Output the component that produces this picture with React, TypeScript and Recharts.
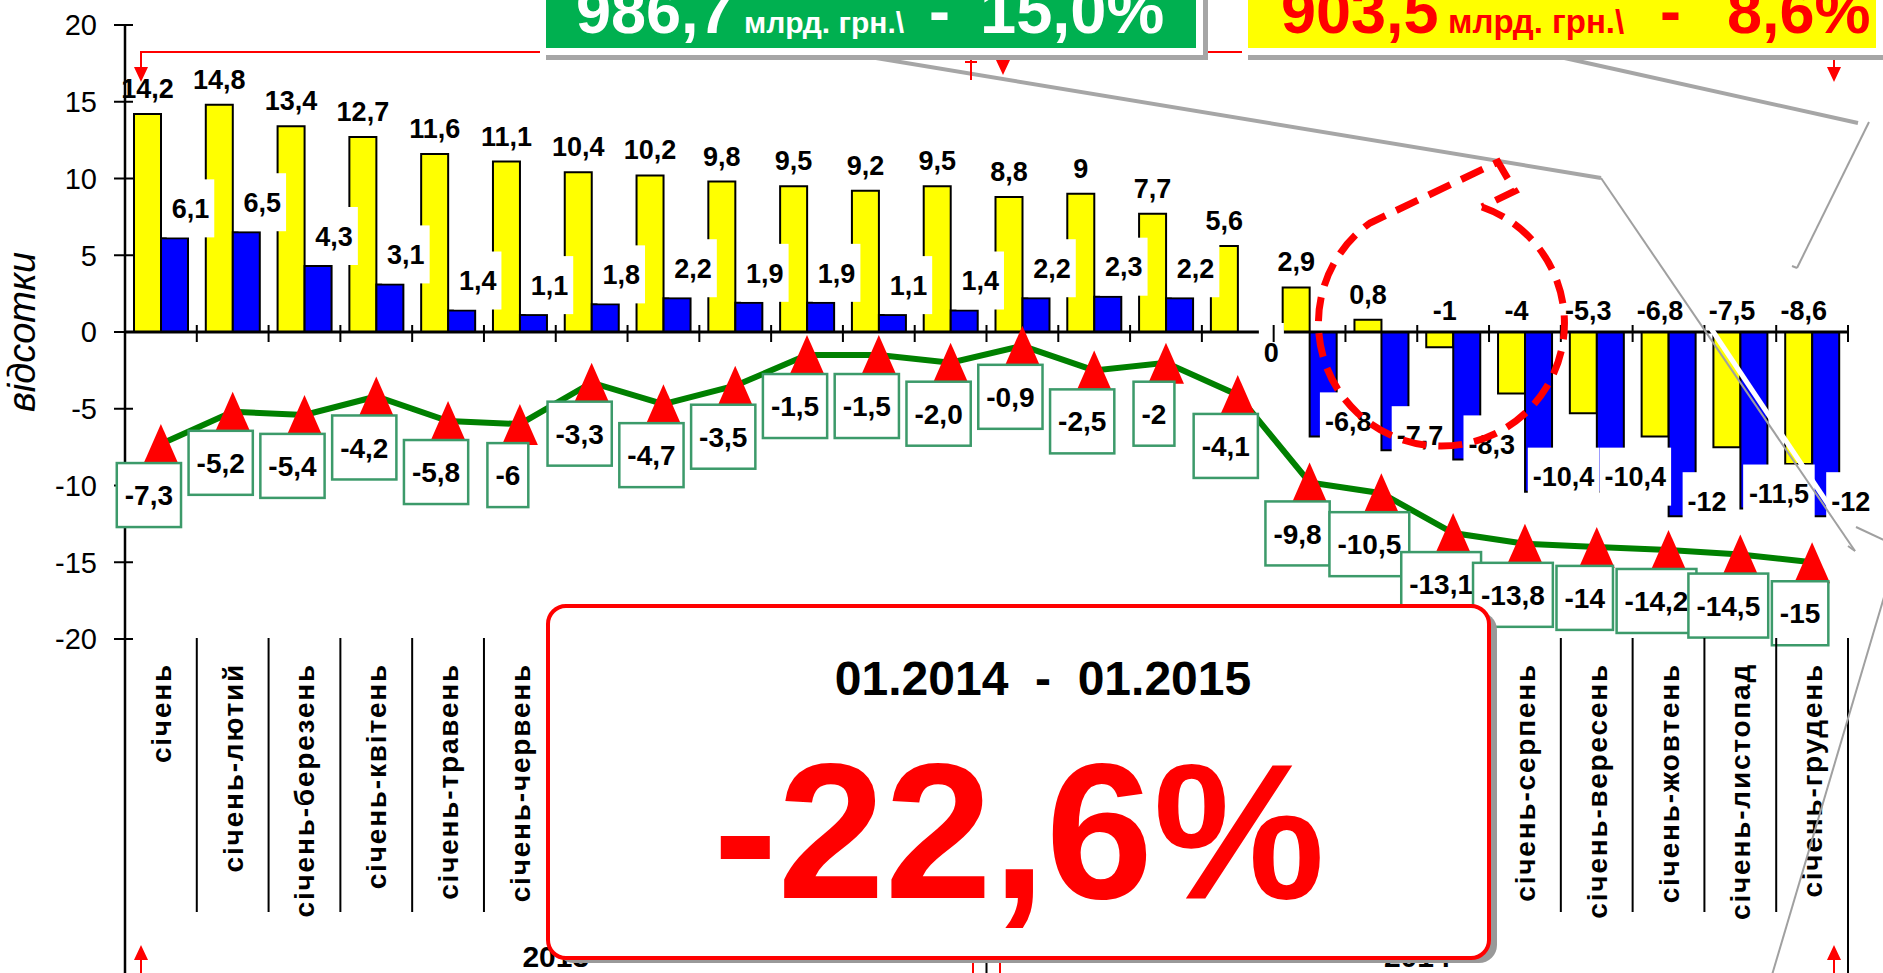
import React from 'react';
import { ComposedChart, Bar, Line, XAxis, YAxis, ReferenceLine, LabelList } from 'recharts';

// ---------- data ----------
const years = ['2013', '2014'];
const months = [
  'січень', 'січень-лютий', 'січень-березень', 'січень-квітень', 'січень-травень', 'січень-червень',
  'січень-липень', 'січень-серпень', 'січень-вересень', 'січень-жовтень', 'січень-листопад', 'січень-грудень',
];
const yellowValues = [14.2, 14.8, 13.4, 12.7, 11.6, 11.1, 10.4, 10.2, 9.8, 9.5, 9.2, 9.5, 8.8, 9, 7.7, 5.6, 2.9, 0.8, -1, -4, -5.3, -6.8, -7.5, -8.6];
const blueValues = [6.1, 6.5, 4.3, 3.1, 1.4, 1.1, 1.8, 2.2, 1.9, 1.9, 1.1, 1.4, 2.2, 2.3, 2.2, 0, -6.8, -7.7, -8.3, -10.4, -10.4, -12, -11.5, -12];
const growthValues = [-7.3, -5.2, -5.4, -4.2, -5.8, -6, -3.3, -4.7, -3.5, -1.5, -1.5, -2.0, -0.9, -2.5, -2, -4.1, -9.8, -10.5, -13.1, -13.8, -14, -14.2, -14.5, -15];
const growthLabels = ['-7,3', '-5,2', '-5,4', '-4,2', '-5,8', '-6', '-3,3', '-4,7', '-3,5', '-1,5', '-1,5', '-2,0', '-0,9', '-2,5', '-2', '-4,1', '-9,8', '-10,5', '-13,1', '-13,8', '-14', '-14,2', '-14,5', '-15'];
const yTicks = [-20, -15, -10, -5, 0, 5, 10, 15, 20];

const data = years.flatMap((yr, yi) =>
  months.map((m, mi) => {
    const i = yi * months.length + mi;
    return { id: `${yr}|${m}`, yellow: yellowValues[i], blue: blueValues[i], growth: growthValues[i] };
  })
);

// ---------- layout ----------
const W = 1883;
const H = 973;
const PL = 125;
const PR = 1848;
const PT = 25;
const PB = 639;
const N = data.length;
const BAND = (PR - PL) / N;
const ZERO_Y = PT + (PB - PT) / 2;
const FONT = "'Liberation Sans', Arial, Helvetica, sans-serif";
const LABEL_FS = 27;

const fmt = (v: number) => String(v).replace('.', ',');
const charW: Record<string, number> = { ',': 0.278, '.': 0.278, '-': 0.333 };
const textWidth = (s: string, fs: number) =>
  s.split('').reduce((a, c) => a + (charW[c] ?? 0.556), 0) * fs;

const rectOf = (p: any) => {
  const vb = p.viewBox && typeof p.viewBox.x === 'number' ? p.viewBox : p;
  return { x: Number(vb.x), y: Number(vb.y), w: Number(vb.width ?? 0), h: Number(vb.height ?? 0) };
};

const YellowLabel = (p: any) => {
  const { x, y, w, h } = rectOf(p);
  const v = typeof p.index === 'number' ? yellowValues[p.index] : Number(p.value);
  const top = Math.min(y, y + h);
  const cx = x + w / 2;
  const t = fmt(v);
  return (
    <text
      x={v >= 0 ? cx : cx + 5}
      y={v >= 0 ? top - 16 : top - 12}
      textAnchor="middle"
      fontSize={LABEL_FS}
      fontWeight="bold"
      fontFamily={FONT}
      fill="#000"
    >
      {t}
    </text>
  );
};

const BlueLabel = (p: any) => {
  const { x, y, w, h } = rectOf(p);
  const v = typeof p.index === 'number' ? blueValues[p.index] : Number(p.value);
  if (!isFinite(x) || !isFinite(y)) return <g />;
  const cx = x + w / 2;
  const end = v >= 0 ? Math.min(y, y + h) : Math.max(y, y + h);
  let tx = cx + 16;
  let ty = end - 30;
  if (v < 0) {
    tx = cx + 25;
    ty = end - 15;
  } else if (v === 0) {
    tx = cx + 20;
    ty = end + 20;
  }
  const t = fmt(v);
  const bw = textWidth(t, LABEL_FS) + 10;
  return (
    <g>
      <rect x={tx - bw / 2} y={ty - 29} width={bw} height={58} fill="#fff" />
      <text x={tx} y={ty} dy="0.36em" textAnchor="middle" fontSize={LABEL_FS} fontWeight="bold" fontFamily={FONT} fill="#000">{t}</text>
    </g>
  );
};

const GrowthLabel = (p: any) => {
  const x = typeof p.x === 'number' ? p.x : rectOf(p).x;
  const y = typeof p.y === 'number' ? p.y : rectOf(p).y;
  const t = growthLabels[p.index] ?? fmt(Number(p.value));
  const bw = textWidth(t, 28) + 16;
  const bx = x - 12;
  const by = y + 51;
  return (
    <g>
      <rect x={bx - bw / 2} y={by - 32} width={bw} height={64} fill="#fff" stroke="#3C9A6A" strokeWidth={2.5} />
      <text x={bx} y={by} dy="0.36em" textAnchor="middle" fontSize={28} fontWeight="bold" fontFamily={FONT} fill="#000">{t}</text>
    </g>
  );
};

const TriDot = (p: any) => {
  const { cx, cy } = p;
  if (cx == null || cy == null) return <g />;
  return <polygon points={`${cx},${cy - 20} ${cx - 18},${cy + 21} ${cx + 18},${cy + 21}`} fill="#FF0000" />;
};

const XTick = (p: any) => {
  const { x, payload } = p;
  const label = String(payload.value).split('|')[1];
  return (
    <text
      transform={`translate(${x + 10},663) rotate(-90)`}
      textAnchor="end"
      fontSize={28}
      fontWeight="bold"
      letterSpacing={1.8}
      fontFamily={FONT}
      fill="#000"
    >
      {label}
    </text>
  );
};

const YTick = (p: any) => {
  const { y, payload } = p;
  return (
    <g>
      <line x1={PL - 11} x2={PL + 8} y1={y} y2={y} stroke="#000" strokeWidth={2} />
      <text x={PL - 28} y={y} dy="0.36em" textAnchor="end" fontSize={29} fontFamily={FONT} fill="#000">{payload.value}</text>
    </g>
  );
};

const RedArrow = ({ x, y1, y2 }: { x: number; y1: number; y2: number }) => {
  const d = Math.sign(y2 - y1);
  return (
    <g>
      <line x1={x} x2={x} y1={y1} y2={y2 - d * 12} stroke="#FF0000" strokeWidth={2} />
      <polygon points={`${x},${y2} ${x - 7},${y2 - d * 15} ${x + 7},${y2 - d * 15}`} fill="#FF0000" />
    </g>
  );
};

const Overlay = () => {
  const bounds = Array.from({ length: N + 1 }, (_, i) => PL + i * BAND);
  return (
    <svg width={W} height={H} style={{ position: 'absolute', left: 0, top: 0 }} fontFamily={FONT}>
      {/* axis extension & separators */}
      <line x1={PL} x2={PL} y1={PB} y2={H} stroke="#000" strokeWidth={2.5} />
      {bounds.slice(1).map((bx, k) => {
        const i = k + 1;
        const full = i % 12 === 0;
        return (
          <g key={`b${i}`}>
            <line x1={bx} x2={bx} y1={ZERO_Y - 7} y2={ZERO_Y + 10} stroke="#000" strokeWidth={2} />
            <line x1={bx} x2={bx} y1={PB - 1} y2={full ? H : 912} stroke="#000" strokeWidth={2} />
          </g>
        );
      })}
      {years.map((yr, yi) => (
        <text key={yr} x={PL + (yi * 12 + 6) * BAND} y={967} textAnchor="middle" fontSize={30} fontWeight="bold" fill="#000">{yr}</text>
      ))}
      <text transform={`translate(35,${ZERO_Y}) rotate(-90)`} textAnchor="middle" fontSize={38} fontStyle="italic" fill="#000">відсотки</text>

      {/* bottom red arrows */}
      <RedArrow x={141} y1={973} y2={945} />
      <RedArrow x={1834} y1={973} y2={945} />
      <line x1={973} x2={973} y1={958} y2={973} stroke="#FF0000" strokeWidth={2} />
      <line x1={1000} x2={1000} y1={958} y2={973} stroke="#FF0000" strokeWidth={2} />

      {/* grey callout lines */}
      <line x1={870} y1={57} x2={1601} y2={178} stroke="#A6A6A6" strokeWidth={4} />
      <line x1={1601} y1={178} x2={1855} y2={551} stroke="#A0A0A0" strokeWidth={2} />
      <line x1={1855} y1={551} x2={1848} y2={546} stroke="#A0A0A0" strokeWidth={2} />
      <line x1={1690} y1={297} x2={1840} y2={522} stroke="#FFFFFF" strokeWidth={5} />
      <line x1={1560} y1={57} x2={1858} y2={123} stroke="#A6A6A6" strokeWidth={4} />
      <line x1={1869} y1={122} x2={1797} y2={268} stroke="#A0A0A0" strokeWidth={2} />
      <line x1={1797} y1={268} x2={1792} y2={266} stroke="#A0A0A0" strokeWidth={2} />
      <line x1={1856} y1={527} x2={1890} y2={543} stroke="#A0A0A0" strokeWidth={2} />
      <line x1={1895} y1={560} x2={1772} y2={975} stroke="#A0A0A0" strokeWidth={2} />

      {/* red dashed callout */}
      <path
        d="M 1482 207 A 123 123 0 1 1 1370 223 L 1498 162 L 1515 191 L 1482 207"
        fill="none"
        stroke="#FF0000"
        strokeWidth={7}
        strokeDasharray="24 12"
      />

      {/* top red connectors */}
      <polyline points="546,52 141,52 141,70" fill="none" stroke="#FF0000" strokeWidth={2} />
      <polygon points="141,82 134,67 148,67" fill="#FF0000" />
      <line x1={971} x2={971} y1={55} y2={80} stroke="#FF0000" strokeWidth={2} />
      <line x1={965} x2={977} y1={62} y2={62} stroke="#FF0000" strokeWidth={2} />
      <RedArrow x={1003} y1={55} y2={75} />
      <line x1={1203} x2={1242} y1={52} y2={52} stroke="#FF0000" strokeWidth={2} />
      <RedArrow x={1834} y1={57} y2={82} />

      {/* top boxes */}
      <rect x={546} y={-10} width={662} height={70} fill="#A6A6A6" />
      <rect x={540} y={-10} width={663} height={65} fill="#FFFFFF" />
      <rect x={546} y={-10} width={650} height={58} fill="#00B050" />
      <g fill="#FFFFFF" fontWeight="bold">
        <text x={576} y={33} fontSize={63}>986,7</text>
        <text x={744} y={33} fontSize={30}>млрд. грн.\</text>
        <text x={929} y={33} fontSize={63}>-</text>
        <text x={980} y={33} fontSize={65}>15,0%</text>
      </g>

      <rect x={1248} y={-10} width={650} height={70} fill="#A6A6A6" />
      <rect x={1242} y={-10} width={650} height={65} fill="#FFFFFF" />
      <rect x={1248} y={-10} width={628} height={58} fill="#FFFF00" />
      <g fill="#FF0000" fontWeight="bold">
        <text x={1281} y={33} fontSize={63}>903,5</text>
        <text x={1448} y={33} fontSize={33}>млрд. грн.\</text>
        <text x={1660} y={33} fontSize={63}>-</text>
        <text x={1727} y={33} fontSize={63}>8,6%</text>
      </g>

      {/* big result box */}
      <rect x={556} y={612} width={941} height={351} rx={18} fill="#999999" />
      <rect x={548} y={606} width={941} height={352} rx={18} fill="#FFFFFF" stroke="#FF0000" strokeWidth={4} />
      <text x={1043} y={695} textAnchor="middle" fontSize={48} fontWeight="bold" fill="#000">
        {'01.2014\u00A0\u00A0-\u00A0\u00A001.2015'}
      </text>
      <text x={1019} y={898} textAnchor="middle" fontSize={193} fontWeight="bold" fill="#FF0000">-22,6%</text>
    </svg>
  );
};

export default function App() {
  return (
    <div style={{ position: 'absolute', left: 0, top: 0, width: W, height: H, background: '#fff', overflow: 'hidden' }}>
      <ComposedChart
        width={W}
        height={H}
        data={data}
        margin={{ top: PT, right: W - PR, bottom: H - PB - 30, left: PL - 60 }}
        barGap={0}
        barSize={27}
      >
        <XAxis dataKey="id" height={30} axisLine={false} tickLine={false} interval={0} tick={(p: any) => <XTick {...p} />} />
        <YAxis
          width={60}
          type="number"
          domain={[-20, 20]}
          ticks={yTicks}
          interval={0}
          allowDataOverflow
          axisLine={{ stroke: '#000', strokeWidth: 2.5 }}
          tickLine={false}
          tick={(p: any) => <YTick {...p} />}
        />
        <ReferenceLine y={0} stroke="#000" strokeWidth={3} />
        <Bar dataKey="yellow" fill="#FFFF00" stroke="#000" strokeWidth={2} isAnimationActive={false}>
          <LabelList dataKey="yellow" content={(p: any) => <YellowLabel {...p} />} />
        </Bar>
        <Bar dataKey="blue" fill="#0000FF" stroke="#000" strokeWidth={2} minPointSize={0.01} isAnimationActive={false}>
          <LabelList dataKey="blue" content={(p: any) => <BlueLabel {...p} />} />
        </Bar>
        <Line
          type="linear"
          dataKey="growth"
          stroke="#008000"
          strokeWidth={6}
          dot={(p: any) => <TriDot key={`d${p.index}`} {...p} />}
          activeDot={false}
          isAnimationActive={false}
        >
          <LabelList dataKey="growth" content={(p: any) => <GrowthLabel {...p} />} />
        </Line>
      </ComposedChart>
      <Overlay />
    </div>
  );
}
